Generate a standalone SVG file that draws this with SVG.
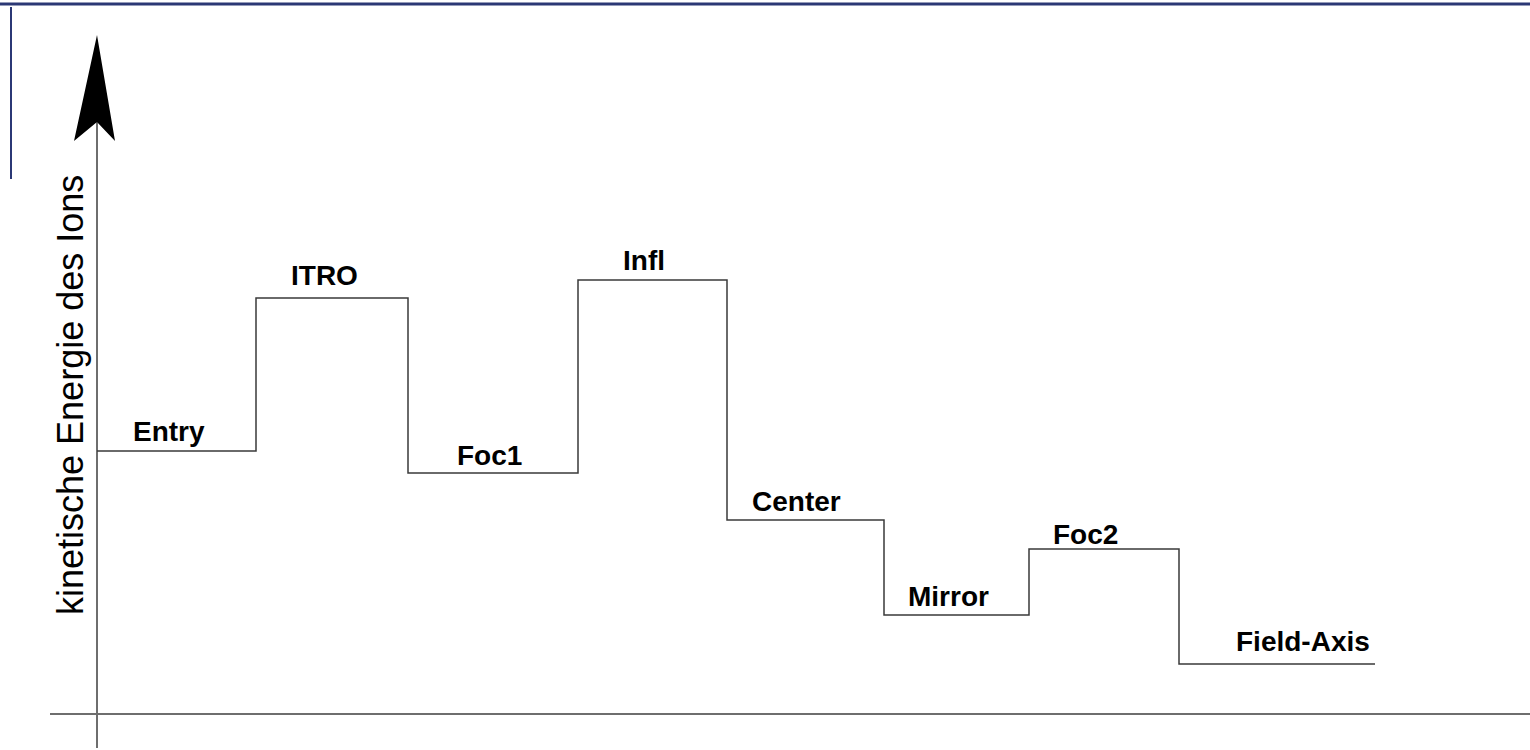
<svg xmlns="http://www.w3.org/2000/svg" width="1530" height="750" viewBox="0 0 1530 750">
<style>
.frame{stroke:#2b3875;fill:none}
.axis{stroke:#6e6e6e;stroke-width:2;fill:none}
.step{stroke:#3a3a3a;stroke-width:1.5;fill:none}
.lbl{font-family:"Liberation Sans",Arial,sans-serif;font-weight:bold;font-size:28px;fill:#000}
.ylbl{font-family:"Liberation Sans",Arial,sans-serif;font-size:36px;fill:#000}
</style>
<rect width="1530" height="750" fill="#fff"/>
<g id="frame">
<line class="frame" x1="0" y1="4" x2="1530" y2="4" stroke-width="3"/>
<line class="frame" x1="11" y1="7" x2="11" y2="179" stroke-width="2"/>
</g>
<g id="axes">
<line class="axis" x1="97" y1="120" x2="97" y2="748" stroke-width="1.5"/>
<line class="axis" x1="50" y1="714" x2="1530" y2="714"/>
<polygon id="arrowhead" points="97,35 115,141 97,122 74,141" fill="#000"/>
<text class="ylbl" transform="translate(83,615) rotate(-90)">kinetische Energie des Ions</text>
</g>
<g id="connectors">
<polyline class="step" points="97,451 256,451 256,298 408,298 408,473 578,473 578,280 727,280 727,520 884,520 884,615 1029,615 1029,549 1179,549 1179,664 1375,664"/>
</g>
<g id="node-entry"><text class="lbl" x="133" y="441">Entry</text></g>
<g id="node-itro"><text class="lbl" x="291" y="285">ITRO</text></g>
<g id="node-foc1"><text class="lbl" x="457" y="465">Foc1</text></g>
<g id="node-infl"><text class="lbl" x="623" y="270">Infl</text></g>
<g id="node-center"><text class="lbl" x="752" y="511">Center</text></g>
<g id="node-mirror"><text class="lbl" x="908" y="606">Mirror</text></g>
<g id="node-foc2"><text class="lbl" x="1053" y="544">Foc2</text></g>
<g id="node-fieldaxis"><text class="lbl" x="1236" y="651">Field-Axis</text></g>
</svg>
